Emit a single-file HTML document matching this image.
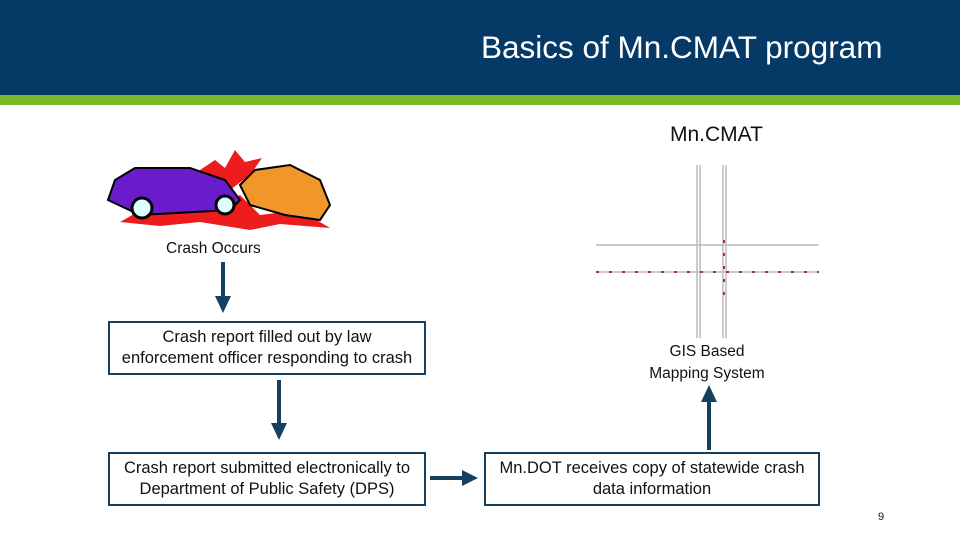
<!DOCTYPE html>
<html><head><style>
body{margin:0;width:960px;height:540px;background:#fff;position:relative;overflow:hidden;font-family:"Liberation Sans",sans-serif;}
.hd{position:absolute;left:0;top:0;width:960px;height:95px;background:#053a66;}
.gr{position:absolute;left:0;top:95px;width:960px;height:10px;background:#7ab929;}
.t{position:absolute;color:#fff;font-size:31.5px;left:481px;top:29px;white-space:nowrap;}
.box{position:absolute;border:2px solid #16405f;box-sizing:border-box;font-size:16.5px;text-align:center;line-height:21px;color:#111;display:flex;align-items:center;justify-content:center;white-space:nowrap;}
.lbl{position:absolute;font-size:15.5px;color:#111;text-align:center;line-height:22px;white-space:nowrap;}
</style></head><body>
<div class="hd"></div><div class="gr"></div>
<div class="t">Basics of Mn.CMAT program</div>
<div class="lbl" style="left:670px;top:124px;font-size:21px">Mn.CMAT</div>
<svg width="960" height="540" style="position:absolute;left:0;top:0">
<polygon points="120,222 150,205 180,212 200,200 215,210 240,195 260,215 300,210 330,228 280,224 250,230 200,222 160,226" fill="#ee1c1c"/>
<polygon points="200,170 215,160 225,168 235,150 245,162 262,158 250,175 230,190 210,185" fill="#ee1c1c"/>
<polygon points="108,200 115,180 135,168 190,168 225,180 240,200 230,210 140,215" fill="#6a1ccc" stroke="#000" stroke-width="2"/>
<polygon points="240,185 255,170 290,165 320,180 330,205 320,220 285,215 250,205" fill="#f0962a" stroke="#000" stroke-width="2"/>
<circle cx="142" cy="208" r="10" fill="#dff" stroke="#000" stroke-width="3"/>
<circle cx="225" cy="205" r="9" fill="#dff" stroke="#000" stroke-width="3"/>
<g stroke="#bbb" stroke-width="1.5" fill="none">
<line x1="697" y1="165" x2="697" y2="338"/><line x1="700" y1="165" x2="700" y2="338"/>
<line x1="723" y1="165" x2="723" y2="338"/><line x1="726" y1="165" x2="726" y2="338"/>
<line x1="596" y1="245" x2="819" y2="245"/><line x1="596" y1="272" x2="819" y2="272"/>
</g>
<g stroke="#a33" stroke-width="2" stroke-dasharray="3 10"><line x1="724" y1="240" x2="724" y2="305"/><line x1="596" y1="272" x2="819" y2="272"/></g>
<g fill="#16405f">
<rect x="221" y="262" width="4" height="36"/><polygon points="215,296 231,296 223,313"/>
<rect x="277" y="380" width="4" height="45"/><polygon points="271,423 287,423 279,440"/>
<rect x="430" y="476" width="34" height="4"/><polygon points="462,470 462,486 478,478"/>
<rect x="707" y="400" width="4" height="50"/><polygon points="701,402 717,402 709,385"/>
</g>
</svg>
<div class="lbl" style="left:166px;top:238px">Crash Occurs</div>
<div class="box" style="left:108px;top:321px;width:318px;height:54px">Crash report filled out by law<br>enforcement officer responding to crash</div>
<div class="box" style="left:108px;top:452px;width:318px;height:54px">Crash report submitted electronically to<br>Department of Public Safety (DPS)</div>
<div class="box" style="left:484px;top:452px;width:336px;height:54px">Mn.DOT receives copy of statewide crash<br>data information</div>
<div class="lbl" style="left:620px;top:341px;width:174px">GIS Based<br>Mapping System</div>
<div class="lbl" style="left:878px;top:506px;font-size:11px">9</div>
</body></html>
